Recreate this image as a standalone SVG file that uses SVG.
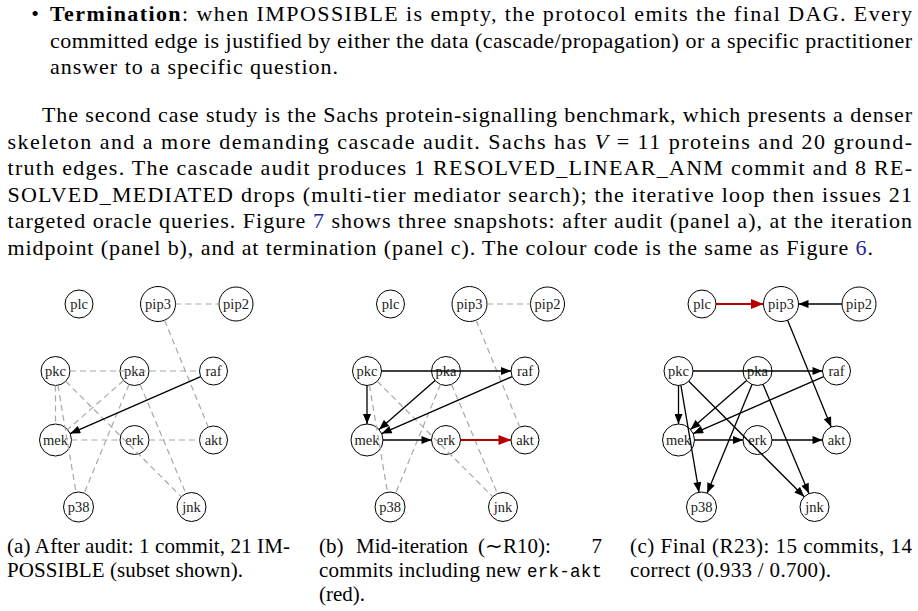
<svg xmlns="http://www.w3.org/2000/svg" width="918" height="611" viewBox="0 0 918 611">
<style>
.t{font-family:"Liberation Serif","Times New Roman",serif;font-size:21px;fill:#000}
.p{font-size:22px}
.b{font-weight:bold}
.lk{fill:#2323a3}
.mono{font-family:"Liberation Mono","Courier New",monospace;font-size:17.5px}
.node circle{fill:#fff;stroke:#000;stroke-width:1}
.node text{font-family:"Liberation Serif","Times New Roman",serif;font-size:14.5px;text-anchor:middle;fill:#222}
.dash{stroke:#a8a8a8;stroke-width:1.2;stroke-dasharray:6 4;fill:none}
.arr{stroke:#000;stroke-width:1.3;fill:none;marker-end:url(#ah)}
.red{stroke:#b80000;stroke-width:2;fill:none;marker-end:url(#ahr)}
</style>
<defs>
<marker id="ah" viewBox="0 0 10 8" refX="10" refY="4" markerWidth="11" markerHeight="8" markerUnits="userSpaceOnUse" orient="auto"><path d="M0,0 L10,4 L0,8 z" fill="#000"/></marker>
<marker id="ahr" viewBox="0 0 10 8" refX="10" refY="4" markerWidth="14" markerHeight="10" markerUnits="userSpaceOnUse" orient="auto"><path d="M0,0 L10,4 L0,8 z" fill="#b80000"/></marker>
</defs>
<rect width="918" height="611" fill="#fff"/>

<g id="text-body">
<text class="t p" x="35" y="21" text-anchor="middle">•</text>
<text class="t p" x="50" y="21" textLength="862"><tspan class="b">Termination</tspan>: when IMPOSSIBLE is empty, the protocol emits the final DAG. Every</text>
<text class="t p" x="50" y="47.5" textLength="862">committed edge is justified by either the data (cascade/propagation) or a specific practitioner</text>
<text class="t p" x="50" y="74" textLength="288">answer to a specific question.</text>

<text class="t p" x="42" y="122" textLength="870">The second case study is the Sachs protein-signalling benchmark, which presents a denser</text>
<text class="t p" x="7.5" y="148.5" textLength="904.5">skeleton and a more demanding cascade audit.  Sachs has <tspan font-style="italic">V</tspan> = 11 proteins and 20 ground-</text>
<text class="t p" x="7.5" y="175" textLength="904.5">truth edges. The cascade audit produces 1 RESOLVED_LINEAR_ANM commit and 8 RE-</text>
<text class="t p" x="7.5" y="201.5" textLength="904.5">SOLVED_MEDIATED drops (multi-tier mediator search); the iterative loop then issues 21</text>
<text class="t p" x="7.5" y="228" textLength="904.5">targeted oracle queries. Figure <tspan class="lk">7</tspan> shows three snapshots: after audit (panel a), at the iteration</text>
<text class="t p" x="7.5" y="254.5" textLength="865.5">midpoint (panel b), and at termination (panel c). The colour code is the same as Figure <tspan class="lk">6</tspan>.</text>
</g>

<!-- Panel a -->
<g id="panel-a" transform="translate(55.5,0)">
<g id="a-plc" class="node"><circle cx="23.5" cy="304" r="14"/><text x="23.5" y="308.5">plc</text></g>
<g id="a-pip3" class="node"><circle cx="102.5" cy="304" r="17.5"/><text x="102.5" y="308.5">pip3</text></g>
<g id="a-pip2" class="node"><circle cx="180.5" cy="304" r="17"/><text x="180.5" y="308.5">pip2</text></g>
<g id="a-pkc" class="node"><circle cx="0" cy="371" r="14.5"/><text x="0" y="375.5">pkc</text></g>
<g id="a-pka" class="node"><circle cx="79" cy="371" r="14.5"/><text x="79" y="375.5">pka</text></g>
<g id="a-raf" class="node"><circle cx="158" cy="371" r="14"/><text x="158" y="375.5">raf</text></g>
<g id="a-mek" class="node"><circle cx="0" cy="440" r="16"/><text x="0" y="444.5">mek</text></g>
<g id="a-erk" class="node"><circle cx="79" cy="440" r="14.5"/><text x="79" y="444.5">erk</text></g>
<g id="a-akt" class="node"><circle cx="158" cy="440" r="14"/><text x="158" y="444.5">akt</text></g>
<g id="a-p38" class="node"><circle cx="23" cy="507" r="15"/><text x="23" y="511.5">p38</text></g>
<g id="a-jnk" class="node"><circle cx="136" cy="507" r="14.5"/><text x="136" y="511.5">jnk</text></g>
<g id="a-edges">
<line class="dash" x1="120" y1="304" x2="163.5" y2="304"/>
<line class="dash" x1="109.1" y1="320.2" x2="152.7" y2="427"/>
<line class="dash" x1="14.5" y1="371" x2="144" y2="371"/>
<line class="dash" x1="0" y1="385.5" x2="0" y2="424"/>
<line class="dash" x1="2.4" y1="385.3" x2="20.5" y2="492.2"/>
<line class="dash" x1="10.25" y1="381.25" x2="125.75" y2="496.75"/>
<line class="dash" x1="68.1" y1="380.5" x2="12.05" y2="429.5"/>
<line class="dash" x1="73.5" y1="384.4" x2="28.7" y2="493.1"/>
<line class="dash" x1="84.6" y1="384.4" x2="130.4" y2="493.6"/>
<line class="dash" x1="16" y1="440" x2="64.5" y2="440"/>
<line class="dash" x1="93.5" y1="440" x2="144" y2="440"/>
<line class="arr" x1="145.2" y1="376.6" x2="14.66" y2="433.6"/>
</g>
</g>

<!-- Panel b -->
<g id="panel-b" transform="translate(367,0)">
<g id="b-plc" class="node"><circle cx="23.5" cy="304" r="14"/><text x="23.5" y="308.5">plc</text></g>
<g id="b-pip3" class="node"><circle cx="102.5" cy="304" r="17.5"/><text x="102.5" y="308.5">pip3</text></g>
<g id="b-pip2" class="node"><circle cx="180.5" cy="304" r="17"/><text x="180.5" y="308.5">pip2</text></g>
<g id="b-pkc" class="node"><circle cx="0" cy="371" r="14.5"/><text x="0" y="375.5">pkc</text></g>
<g id="b-pka" class="node"><circle cx="79" cy="371" r="14.5"/><text x="79" y="375.5">pka</text></g>
<g id="b-raf" class="node"><circle cx="158" cy="371" r="14"/><text x="158" y="375.5">raf</text></g>
<g id="b-mek" class="node"><circle cx="0" cy="440" r="16"/><text x="0" y="444.5">mek</text></g>
<g id="b-erk" class="node"><circle cx="79" cy="440" r="14.5"/><text x="79" y="444.5">erk</text></g>
<g id="b-akt" class="node"><circle cx="158" cy="440" r="14"/><text x="158" y="444.5">akt</text></g>
<g id="b-p38" class="node"><circle cx="23" cy="507" r="15"/><text x="23" y="511.5">p38</text></g>
<g id="b-jnk" class="node"><circle cx="136" cy="507" r="14.5"/><text x="136" y="511.5">jnk</text></g>
<g id="b-edges">
<line class="dash" x1="120" y1="304" x2="163.5" y2="304"/>
<line class="dash" x1="109.1" y1="320.2" x2="152.7" y2="427"/>
<line class="dash" x1="2.4" y1="385.3" x2="20.5" y2="492.2"/>
<line class="dash" x1="10.25" y1="381.25" x2="125.75" y2="496.75"/>
<line class="dash" x1="73.5" y1="384.4" x2="28.7" y2="493.1"/>
<line class="dash" x1="84.6" y1="384.4" x2="130.4" y2="493.6"/>
<line class="arr" x1="14.5" y1="371" x2="144" y2="371"/>
<line class="arr" x1="0" y1="385.5" x2="0" y2="424"/>
<line class="arr" x1="68.1" y1="380.5" x2="12.05" y2="429.5"/>
<line class="arr" x1="145.2" y1="376.6" x2="14.66" y2="433.6"/>
<line class="arr" x1="16" y1="440" x2="64.5" y2="440"/>
<line class="red" x1="93.5" y1="440" x2="144" y2="440"/>
</g>
</g>

<!-- Panel c -->
<g id="panel-c" transform="translate(678.5,0)">
<g id="c-plc" class="node"><circle cx="23.5" cy="304" r="14"/><text x="23.5" y="308.5">plc</text></g>
<g id="c-pip3" class="node"><circle cx="102.5" cy="304" r="17.5"/><text x="102.5" y="308.5">pip3</text></g>
<g id="c-pip2" class="node"><circle cx="180.5" cy="304" r="17"/><text x="180.5" y="308.5">pip2</text></g>
<g id="c-pkc" class="node"><circle cx="0" cy="371" r="14.5"/><text x="0" y="375.5">pkc</text></g>
<g id="c-pka" class="node"><circle cx="79" cy="371" r="14.5"/><text x="79" y="375.5">pka</text></g>
<g id="c-raf" class="node"><circle cx="158" cy="371" r="14"/><text x="158" y="375.5">raf</text></g>
<g id="c-mek" class="node"><circle cx="0" cy="440" r="16"/><text x="0" y="444.5">mek</text></g>
<g id="c-erk" class="node"><circle cx="79" cy="440" r="14.5"/><text x="79" y="444.5">erk</text></g>
<g id="c-akt" class="node"><circle cx="158" cy="440" r="14"/><text x="158" y="444.5">akt</text></g>
<g id="c-p38" class="node"><circle cx="23" cy="507" r="15"/><text x="23" y="511.5">p38</text></g>
<g id="c-jnk" class="node"><circle cx="136" cy="507" r="14.5"/><text x="136" y="511.5">jnk</text></g>
<g id="c-edges">
<line class="red" x1="37.5" y1="304" x2="85" y2="304"/>
<line class="arr" x1="163.5" y1="304" x2="120" y2="304"/>
<line class="arr" x1="109.1" y1="320.2" x2="152.7" y2="427"/>
<line class="arr" x1="14.5" y1="371" x2="144" y2="371"/>
<line class="arr" x1="0" y1="385.5" x2="0" y2="424"/>
<line class="arr" x1="2.4" y1="385.3" x2="20.5" y2="492.2"/>
<line class="arr" x1="10.25" y1="381.25" x2="125.75" y2="496.75"/>
<line class="arr" x1="68.1" y1="380.5" x2="12.05" y2="429.5"/>
<line class="arr" x1="73.5" y1="384.4" x2="28.7" y2="493.1"/>
<line class="arr" x1="84.6" y1="384.4" x2="130.4" y2="493.6"/>
<line class="arr" x1="145.2" y1="376.6" x2="14.66" y2="433.6"/>
<line class="arr" x1="16" y1="440" x2="64.5" y2="440"/>
<line class="arr" x1="93.5" y1="440" x2="144" y2="440"/>
</g>
</g>

<g id="captions">
<text class="t" x="7" y="553" textLength="283">(a) After audit: 1 commit, 21 IM-</text>
<text class="t" x="7" y="577" textLength="236">POSSIBLE (subset shown).</text>
<text class="t" x="319" y="553">(b)</text>
<text class="t" x="356" y="553">Mid-iteration</text>
<text class="t" x="478" y="553">(∼R10):</text>
<text class="t" x="602" y="553" text-anchor="end">7</text>
<text class="t" x="319" y="577" textLength="283">commits including new <tspan class="mono">erk-akt</tspan></text>
<text class="t" x="319" y="601">(red).</text>
<text class="t" x="630" y="553" textLength="282">(c) Final (R23): 15 commits, 14</text>
<text class="t" x="630" y="577" textLength="201">correct (0.933 / 0.700).</text>
</g>
</svg>
